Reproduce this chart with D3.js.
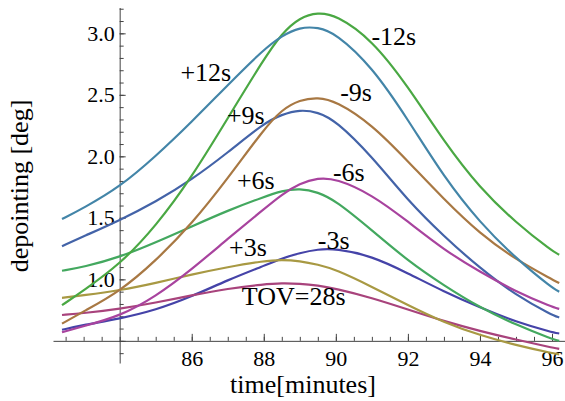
<!DOCTYPE html>
<html>
<head>
<meta charset="utf-8">
<script src="https://cdn.jsdelivr.net/npm/d3@7"></script>
<style>
  body { margin: 0; background: #fff; }
</style>
</head>
<body>
<div id="chart"></div>
<script>
const width = 565;
const height = 401;
const serif = "'Liberation Serif', 'Times New Roman', Times, serif";

// sample times [minutes]
const times = [82.4, 83, 84, 85, 86, 87, 88, 88.5, 89, 89.5, 90, 91, 92, 93, 94, 95, 96, 96.2];

// depointing [deg] per launch offset
const minus3  = [0.59, 0.63, 0.68, 0.75, 0.86, 0.995, 1.11, 1.17, 1.215, 1.245, 1.25, 1.19, 1.05, 0.90, 0.77, 0.655, 0.57, 0.56];
const tov28   = [0.71, 0.725, 0.76, 0.81, 0.87, 0.925, 0.96, 0.97, 0.965, 0.95, 0.925, 0.85, 0.755, 0.66, 0.58, 0.51, 0.445, 0.435];
const plus3   = [0.85, 0.87, 0.91, 0.97, 1.04, 1.10, 1.15, 1.16, 1.15, 1.12, 1.08, 0.94, 0.79, 0.65, 0.545, 0.465, 0.40, 0.39];
const plus6   = [1.07, 1.10, 1.18, 1.30, 1.43, 1.56, 1.67, 1.72, 1.74, 1.71, 1.64, 1.40, 1.15, 0.95, 0.77, 0.63, 0.515, 0.50];
const plus9   = [1.27, 1.35, 1.48, 1.63, 1.81, 2.03, 2.27, 2.34, 2.38, 2.36, 2.29, 2.00, 1.64, 1.35, 1.09, 0.87, 0.71, 0.69];
const minus6  = [0.57, 0.62, 0.70, 0.86, 1.08, 1.33, 1.57, 1.69, 1.78, 1.825, 1.82, 1.69, 1.47, 1.24, 1.06, 0.90, 0.775, 0.76];
const minus9  = [0.64, 0.74, 0.90, 1.15, 1.45, 1.82, 2.22, 2.38, 2.46, 2.48, 2.45, 2.26, 1.96, 1.65, 1.37, 1.16, 1.00, 0.97];
const minus12 = [0.79, 0.91, 1.12, 1.43, 1.83, 2.31, 2.79, 3.00, 3.13, 3.17, 3.15, 2.95, 2.57, 2.12, 1.74, 1.46, 1.23, 1.20];
const plus12  = [1.49, 1.58, 1.75, 2.00, 2.28, 2.58, 2.87, 2.98, 3.05, 3.05, 3.00, 2.73, 2.30, 1.83, 1.46, 1.17, 0.93, 0.90];

const seriesList = [minus3, tov28, plus3, plus6, plus9, minus6, minus9, minus12, plus12];
const seriesColors = ["#4543a8", "#a8437c", "#a89943", "#43a85f", "#4363a8", "#a8439e", "#a87843", "#4aa843", "#4385a8"];

// curve labels: text, time, depointing (baseline)
const labelTexts = ["-3s", "TOV=28s", "+3s", "+6s", "+9s", "-6s", "-9s", "-12s", "+12s"];
const labelTimes = [89.94, 88.83, 87.56, 87.78, 87.5, 90.36, 90.56, 91.61, 86.39];
const labelVals  = [1.248, 0.793, 1.191, 1.736, 2.264, 1.801, 2.451, 2.907, 2.614];

const xMajor = [86, 88, 90, 92, 94, 96];
const yMajor = [0.5, 1.0, 1.5, 2.0, 2.5, 3.0];

const svg = d3.select("#chart").append("svg")
    .attr("width", width)
    .attr("height", height)
    .attr("font-family", serif);

// axes cross at (84, 0.5)
const x = d3.scaleLinear().domain([82.15, 96.36]).range([53, 565]);
const y = d3.scaleLinear().domain([0.32, 3.21]).range([363, 7.5]);

const axisColor = "#444";

//x axis: minor ticks, then labelled major ticks, ticks pointing up
const xMinor = d3.range(82.5, 96.01, 0.5);
svg.append("g")
    .attr("transform", "translate(0," + y(0.5) + ")")
    .call(d3.axisBottom(x).tickValues(xMinor).tickSizeInner(-4).tickSizeOuter(0).tickFormat(""))
    .call(g => g.select(".domain").attr("stroke", axisColor));
svg.append("g")
    .attr("transform", "translate(0," + y(0.5) + ")")
    .call(d3.axisBottom(x).tickValues(xMajor).tickSizeInner(-7).tickSizeOuter(0).tickPadding(10))
    .attr("font-family", serif)
    .attr("font-size", 22)
    .call(g => g.select(".domain").remove());

//y axis: ticks pointing right
const yMinor = d3.range(0.4, 3.201, 0.1);
svg.append("g")
    .attr("transform", "translate(" + x(84) + ",0)")
    .call(d3.axisLeft(y).tickValues(yMinor).tickSizeInner(-4).tickSizeOuter(0).tickFormat(""))
    .call(g => g.select(".domain").attr("stroke", axisColor));
svg.append("g")
    .attr("transform", "translate(" + x(84) + ",0)")
    .call(d3.axisLeft(y).tickValues(yMajor).tickSizeInner(-6).tickSizeOuter(0).tickPadding(5)
        .tickFormat(d => d === 0.5 ? "" : d3.format(".1f")(d)))
    .attr("font-family", serif)
    .attr("font-size", 22)
    .call(g => g.select(".domain").remove());

svg.selectAll(".tick line").attr("stroke", axisColor);
svg.selectAll(".tick text").attr("fill", "#000");

// curves
const line = d3.line()
    .x((d, i) => x(times[i]))
    .y(d => y(d))
    .curve(d3.curveBasis);

svg.selectAll("path.curve")
    .data(seriesList)
    .enter()
    .append("path")
    .attr("class", "curve")
    .attr("d", d => line(d))
    .attr("fill", "none")
    .attr("stroke", (d, i) => seriesColors[i])
    .attr("stroke-width", 2.2);

// curve labels
svg.selectAll("text.lbl")
    .data(labelTexts)
    .enter()
    .append("text")
    .attr("class", "lbl")
    .attr("x", (d, i) => x(labelTimes[i]))
    .attr("y", (d, i) => y(labelVals[i]))
    .attr("text-anchor", "middle")
    .attr("font-size", 26)
    .text(d => d);

// axis titles
svg.append("text")
    .attr("x", 303)
    .attr("y", 393)
    .attr("text-anchor", "middle")
    .attr("font-size", 26)
    .text("time[minutes]");

svg.append("text")
    .attr("transform", "translate(28,186) rotate(-90)")
    .attr("text-anchor", "middle")
    .attr("font-size", 26)
    .text("depointing [deg]");
</script>
</body>
</html>
